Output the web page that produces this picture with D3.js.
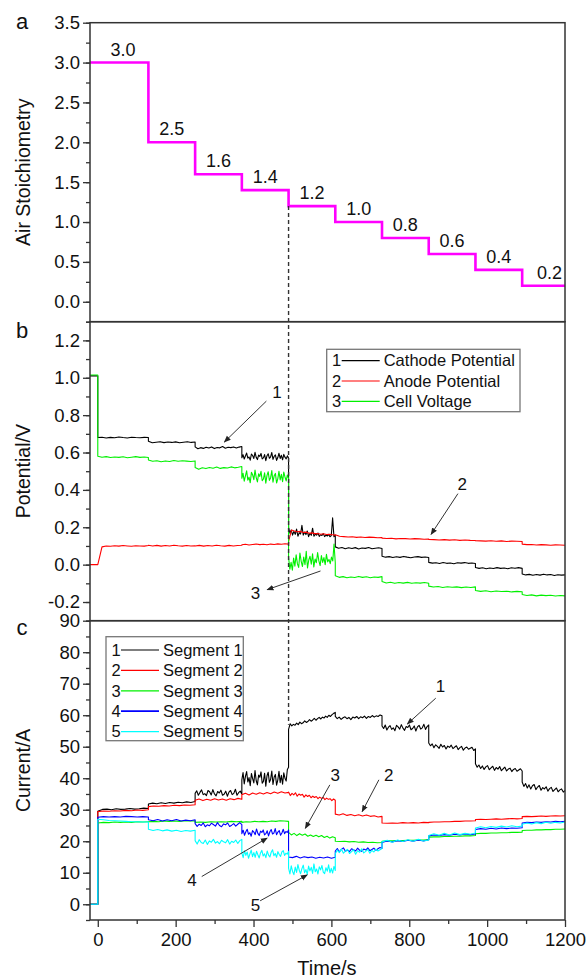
<!DOCTYPE html>
<html>
<head>
<meta charset="utf-8">
<script src="https://cdn.jsdelivr.net/npm/d3@7"></script>
<style>
  body { margin: 0; background: #fff; }
  text { font-family: "Liberation Sans", Arial, sans-serif; fill: #111; }
</style>
</head>
<body>
<svg id="vis" width="587" height="979"></svg>
<script>
// step boundaries of the air stoichiometry program (s)
const stepTimes = [0, 130, 250, 370, 490, 610, 730, 850, 970, 1090, 1200];
const airLevels = [3.0, 2.0, 1.6, 1.4, 1.2, 1.0, 0.8, 0.6, 0.4, 0.2];
const airLabels = ["3.0", "2.5", "1.6", "1.4", "1.2", "1.0", "0.8", "0.6", "0.4", "0.2"];

// panel b: potentials (V), value before t=0 then samples per step
const cathodePre = 1.01;
const cathode = [
  [0.68,0.682,0.678,0.681,0.679,0.683,0.68,0.678,0.682,0.68,0.679,0.681,0.68],
  [0.66,0.652,0.655,0.658,0.653,0.656,0.654,0.657,0.652,0.655,0.658,0.654,0.656],
  [0.63,0.62,0.626,0.622,0.628,0.624,0.63,0.621,0.627,0.625,0.632,0.623,0.628,0.626,0.63,0.624,0.629,0.632],
  [0.572,0.588,0.565,0.581,0.597,0.57,0.576,0.559,0.592,0.584,0.568,0.601,0.574,0.562,0.586,0.579,0.595,0.566,0.571,0.589,0.556,0.583,0.593,0.569,0.577,0.6,0.563,0.58,0.587,0.558,0.573,0.596,0.568,0.585,0.561,0.59,0.575,0.566,0.582,0.57],
  [0.2,0.168,0.185,0.158,0.178,0.162,0.19,0.152,0.171,0.164,0.21,0.158,0.174,0.161,0.18,0.15,0.168,0.157,0.195,0.152,0.163,0.158,0.169,0.151,0.16,0.156,0.166,0.15,0.158,0.153,0.162,0.149,0.156,0.25,0.15,0.158],
  [0.095,0.088,0.092,0.085,0.09,0.086,0.091,0.084,0.089,0.087,0.092,0.085,0.088,0.09,0.086],
  [0.045,0.04,0.043,0.038,0.042,0.039,0.044,0.04,0.037,0.041,0.043,0.039,0.041,0.038],
  [0.012,0.008,0.01,0.006,0.011,0.007,0.009,0.005,0.01,0.008,0.011,0.007,0.009,0.006],
  [-0.015,-0.02,-0.017,-0.022,-0.018,-0.021,-0.016,-0.02,-0.018,-0.022,-0.017,-0.019,-0.016,-0.02],
  [-0.05,-0.055,-0.052,-0.057,-0.053,-0.056,-0.051,-0.055,-0.053,-0.058,-0.054,-0.056,-0.055]
];
const anodePre = 0.0;
const anode = [
  [0.0,0.095,0.1,0.098,0.101,0.099,0.102,0.1,0.098,0.101,0.1,0.099,0.102],
  [0.104,0.1,0.103,0.099,0.102,0.1,0.104,0.101,0.099,0.102,0.1,0.101],
  [0.1,0.103,0.099,0.102,0.1,0.104,0.101,0.099,0.103,0.1,0.102,0.104],
  [0.106,0.109,0.105,0.108,0.11,0.107,0.109,0.106,0.11,0.108,0.111,0.109,0.112,0.11],
  [0.125,0.185,0.18,0.176,0.178,0.172,0.174,0.168,0.17,0.166,0.167,0.163,0.165,0.161,0.162,0.16,0.158],
  [0.16,0.152,0.15,0.148,0.149,0.146,0.148,0.145,0.147,0.146,0.144,0.145],
  [0.142,0.14,0.141,0.138,0.14,0.139,0.137,0.139,0.138,0.136,0.137],
  [0.135,0.134,0.132,0.134,0.131,0.133,0.13,0.132,0.13,0.129],
  [0.128,0.127,0.126,0.128,0.125,0.127,0.124,0.126,0.125,0.124],
  [0.11,0.107,0.108,0.105,0.107,0.106,0.104,0.106,0.105,0.104]
];
const cellPre = 1.015;
const cell = [
  [0.58,0.575,0.578,0.573,0.576,0.574,0.577,0.572,0.575,0.578,0.574,0.576,0.573],
  [0.56,0.553,0.556,0.551,0.555,0.552,0.557,0.553,0.556,0.554,0.552,0.555],
  [0.52,0.51,0.518,0.514,0.52,0.516,0.522,0.515,0.519,0.517,0.523,0.518,0.521,0.525],
  [0.462,0.489,0.447,0.475,0.502,0.452,0.468,0.438,0.494,0.481,0.455,0.506,0.466,0.443,0.486,0.472,0.499,0.449,0.458,0.491,0.436,0.478,0.497,0.451,0.464,0.503,0.441,0.476,0.488,0.437,0.459,0.5,0.453,0.483,0.444,0.495,0.469,0.448,0.48,0.46],
  [0.04,-0.025,0.012,-0.03,0.035,-0.008,0.052,0.005,-0.015,0.062,0.018,-0.01,0.04,0.0,0.071,-0.018,0.025,0.045,0.002,0.058,-0.012,0.03,0.01,0.065,0.02,-0.005,0.048,0.012,0.038,0.0,0.055,0.015,0.028,0.005,0.04,0.02,0.11,0.01],
  [-0.06,-0.068,-0.064,-0.07,-0.066,-0.069,-0.063,-0.068,-0.065,-0.07,-0.066,-0.068,-0.064],
  [-0.09,-0.098,-0.094,-0.1,-0.096,-0.099,-0.095,-0.1,-0.097,-0.099,-0.096,-0.1],
  [-0.115,-0.12,-0.117,-0.122,-0.118,-0.121,-0.119,-0.123,-0.12,-0.122,-0.119],
  [-0.138,-0.143,-0.14,-0.145,-0.141,-0.144,-0.142,-0.146,-0.143,-0.145],
  [-0.16,-0.165,-0.162,-0.167,-0.163,-0.166,-0.164,-0.168,-0.165,-0.167]
];

// panel c: segment currents (A)
const seg1 = [
  [29.5,30.1,30.2,30.0,30.3,30.1,30.2,30.4,30.2,30.3,30.5,30.4],
  [31.8,32.1,31.9,32.2,32.0,32.3,32.1,32.4,32.2,32.5,32.3,32.6],
  [35.2,36.0,34.6,35.5,36.3,34.8,35.1,34.5,36.1,35.7,34.7,36.4,35.0,34.4,35.8,35.3,36.2,34.6,34.9,35.9,34.3,35.6,36.1,34.8,35.2,36.5,34.6,35.4,35.9,35.0],
  [39.5,41.8,38.2,40.6,42.1,38.8,40.2,37.6,41.5,39.9,38.5,42.4,39.2,37.9,41.0,40.3,42.0,38.4,39.0,41.6,37.5,40.8,41.9,38.7,39.6,42.3,38.0,40.4,41.2,37.8,39.4,42.2,38.6,40.9,38.1,41.7,40.0,39.1,42.8,43.5],
  [55.5,57.3,56.6,57.1,56.8,57.5,57.0,57.8,57.3,57.6,58.2,57.7,58.0,58.6,58.1,58.5,59.0,58.4,58.9,59.3,58.8,59.4,59.1,59.7,59.3,60.0,59.6,60.2,60.6,60.9],
  [59.6,58.9,59.4,58.7,59.2,59.5,58.9,59.3,58.6,59.4,59.1,59.6,58.9,59.5,59.2,59.7,59.0,59.6,59.3,59.9,59.4,59.8,59.6,60.1,59.8],
  [56.6,55.8,56.9,55.3,56.2,56.7,55.5,56.0,55.1,56.8,56.3,55.6,57.0,55.9,55.2,56.4,56.1,56.9,55.4,55.8,56.6,55.0,56.3,56.8,55.6,56.0,57.1,55.5,56.4,56.9],
  [51.2,50.3,50.9,49.7,50.6,50.1,49.5,50.8,49.9,50.4,49.3,50.2,49.8,50.5,49.4,49.9,50.3,49.1,49.7,50.1,48.9,49.6,49.9,49.2,49.5,49.8,48.8,49.3],
  [44.6,43.5,44.2,43.1,43.9,42.8,43.6,44.0,42.7,43.3,43.8,42.5,43.4,42.9,43.7,42.4,43.0,43.5,42.3,42.9,43.2,42.1,42.8,43.1,42.2,42.6,43.0,42.3],
  [38.8,37.4,38.3,36.9,37.9,36.6,37.6,38.0,36.4,37.2,37.7,36.2,37.0,36.6,37.3,35.9,36.7,37.1,35.8,36.4,36.9,35.7,36.3,36.6,35.6,36.1]
];
const seg2 = [
  [29.4,29.6,29.5,29.7,29.6,29.8,29.7,29.9,29.8,30.0],
  [31.0,31.2,31.1,31.3,31.2,31.4,31.3,31.5,31.4,31.6],
  [33.0,33.4,32.9,33.3,33.0,33.5,33.1,33.4,33.0,33.5,33.2,33.6,33.3],
  [34.8,35.2,34.7,35.3,34.9,35.4,35.0,35.5,35.1,35.6,35.2,35.7,35.3,35.5],
  [35.6,34.5,35.2,34.7,35.4,34.3,35.0,34.6,34.9,34.0,34.7,34.2,34.6,33.8,34.3,33.9,34.2,33.5,34.0,33.6,33.9,33.2,33.7,33.3,33.5,32.9,33.4,33.0],
  [28.6,28.3,28.7,28.2,28.5,28.1,28.4,28.0,28.3,27.9,28.1,27.7,27.9],
  [25.8,25.7,25.8,25.7,25.9,25.8,25.9,25.8,26.0,25.9],
  [26.0,26.1,26.1,26.2,26.2,26.3,26.3,26.4,26.4,26.5],
  [26.9,27.0,26.9,27.0,27.1,27.0,27.1,27.2,27.1,27.2],
  [27.8,27.9,27.8,27.9,28.0,27.9,28.0,28.1,28.0,28.1]
];
const seg3 = [
  [25.8,26.0,25.9,26.1,26.0,26.1,26.0,26.2,26.1,26.2],
  [26.2,26.3,26.2,26.4,26.3,26.4,26.3,26.5,26.4,26.5],
  [26.0,26.1,26.0,26.2,26.1,26.2,26.1,26.3,26.2,26.3],
  [26.0,26.2,26.1,26.3,26.2,26.3,26.2,26.4,26.3,26.5,26.4,26.3],
  [22.8,22.0,22.5,21.8,22.4,21.9,22.3,21.6,22.0,21.5,21.9,21.4,21.8,21.2,21.6,21.0,21.4,21.1],
  [20.0,19.9,20.0,19.8,19.9,19.7,19.8,19.6,19.7,19.5,19.6],
  [20.0,20.1,20.1,20.2,20.2,20.3,20.3,20.4,20.4,20.5],
  [21.3,21.4,21.4,21.5,21.5,21.6,21.6,21.7,21.7,21.8],
  [22.4,22.5,22.5,22.6,22.6,22.7,22.7,22.8,22.8,22.9],
  [23.4,23.5,23.5,23.6,23.6,23.7,23.7,23.8,23.8,23.9]
];
const seg4 = [
  [27.6,27.8,27.7,27.8,27.7,27.9,27.8,27.7,27.8,27.7],
  [26.8,26.5,26.9,26.4,26.8,26.5,26.9,26.4,26.7,26.5,26.8],
  [25.6,24.7,25.4,25.0,25.8,24.6,25.2,24.9,25.7,25.3,24.8,25.9,25.0,24.6,25.5,25.2,25.8,24.7,25.1,25.6,24.8,25.4,25.9,25.3],
  [22.4,23.5,21.9,23.0,23.8,22.2,22.7,21.6,23.4,22.9,22.1,23.9,22.5,21.8,23.2,22.8,23.6,22.0,22.4,23.3,21.7,23.0,23.7,22.3,22.6,24.0,22.1,22.9,23.4,21.9,22.6,23.8,22.4,23.1,22.8,23.6],
  [15.0,14.8,15.2,14.7,15.1,14.8,15.0,14.6,14.9,14.7,15.0,14.6,14.9],
  [16.9,17.7,16.6,17.4,17.9,16.8,17.2,16.7,17.6,17.3,16.9,17.8,17.1,16.8,17.5,17.2,17.9,17.0,17.4,17.8,17.1,17.6,18.0,17.7],
  [19.6,20.1,19.8,20.2,19.9,20.3,20.0,20.4,20.1,20.5],
  [21.7,22.0,21.8,22.1,21.9,22.2,22.0,22.3,22.1,22.3],
  [23.7,24.0,23.8,24.1,23.9,24.2,24.0,24.2,24.1,24.3],
  [25.8,26.0,25.9,26.1,26.0,26.2,26.1,26.3,26.2,26.3]
];
const seg5 = [
  [27.0,26.8,26.6,26.5,26.4,26.3,26.2,26.2,26.1,26.1],
  [23.8,23.4,23.7,23.3,23.6,23.2,23.5,23.1,23.4,23.2,23.5],
  [20.2,19.1,20.5,19.6,19.3,20.4,19.0,20.1,19.7,20.6,19.4,19.9,19.2,20.3,19.8,19.5,20.5,19.1,20.0,19.6,20.4,19.3,20.2,20.6],
  [16.2,14.8,17.0,15.5,16.6,14.6,15.9,17.2,15.1,16.4,14.9,16.8,15.7,14.7,16.3,17.1,15.3,16.0,14.8,16.9,15.6,15.0,16.5,17.3,15.4,16.1,14.9,16.7,15.8,15.2,16.6,17.0,15.5,16.2,15.9,16.8],
  [11.5,9.6,12.2,10.4,9.4,11.8,10.1,12.6,10.8,9.7,11.3,12.4,10.0,11.0,9.5,12.1,10.6,11.7,9.8,12.8,10.3,11.2,9.6,11.9,10.9,12.3,10.2,9.7,11.6,10.5,12.5,10.0,11.4,9.9,12.0,10.7],
  [16.0,17.2,16.4,17.5,16.2,16.9,17.4,16.1,16.7,17.3,15.9,17.0,16.5,17.6,16.3,16.8,17.4,16.2,17.1,16.6,17.5,16.9,17.3,17.7],
  [19.8,20.3,19.7,20.4,19.9,20.5,20.0,20.6,20.1,20.4],
  [21.8,22.4,21.9,22.5,22.0,22.6,22.1,22.5,22.2,22.6],
  [24.2,24.6,24.3,24.7,24.4,24.8,24.5,24.9,24.6,24.8],
  [25.4,25.8,25.5,25.9,25.6,26.0,25.7,26.0,25.8,26.1]
];

// legends
const potNames = ["Cathode Potential", "Anode Potential", "Cell Voltage"];
const segNames = ["Segment 1", "Segment 2", "Segment 3", "Segment 4", "Segment 5"];

// annotation arrows, in data units: label point, tail, head
const potArrows = [
  { label: "1", lt: 460, lv: 0.923, t0: 433, v0: 0.875, t1: 325, v1: 0.656 },
  { label: "2", lt: 936, lv: 0.43, t0: 925, v0: 0.38, t1: 856, v1: 0.162 },
  { label: "3", lt: 405, lv: -0.152, t0: 572, v0: -0.034, t1: 435, v1: -0.134 }
];
const segArrows = [
  { label: "1", lt: 880, lv: 69.1, t0: 868, v0: 65.4, t1: 795, v1: 57.2 },
  { label: "2", lt: 747, lv: 41.0, t0: 722, v0: 39.5, t1: 679, v1: 29.4 },
  { label: "3", lt: 610, lv: 41.0, t0: 596, v0: 37.9, t1: 533, v1: 24.1 },
  { label: "4", lt: 242, lv: 7.7, t0: 267, v0: 8.8, t1: 435, v1: 21.0 },
  { label: "5", lt: 405, lv: -0.2, t0: 417, v0: 1.1, t1: 538, v1: 9.3 }
];

const svg = d3.select("#vis");
const frameColor = "#333";

const x = d3.scaleLinear().domain([-20, 1200]).range([90, 565]);
const ya = d3.scaleLinear().domain([-0.25, 3.5]).range([321.7, 22.7]);
const yb = d3.scaleLinear().domain([-0.3, 1.3]).range([620.7, 321.7]);
const yc = d3.scaleLinear().domain([-5, 90]).range([920, 620.7]);

svg.append("defs").append("marker")
  .attr("id", "arrow")
  .attr("viewBox", "0 0 10 10")
  .attr("refX", 9).attr("refY", 5)
  .attr("markerWidth", 7).attr("markerHeight", 7)
  .attr("markerUnits", "userSpaceOnUse")
  .attr("orient", "auto")
  .append("path")
  .attr("d", "M0,1 L10,5 L0,9 Z")
  .attr("fill", "#222");

function buildTrace(pre, segs) {
  const pts = [[-20, pre], [0, pre]];
  segs.forEach((vals, i) => {
    const t0 = stepTimes[i], t1 = stepTimes[i + 1];
    vals.forEach((v, k) => pts.push([t0 + k * (t1 - t0) / (vals.length - 1), v]));
  });
  return pts;
}

function yAxis(scale, majors, minors, fmt) {
  svg.append("g")
    .attr("transform", "translate(90,0)")
    .call(d3.axisLeft(scale).tickValues(minors).tickSize(4).tickFormat(""))
    .call(g => g.select(".domain").remove())
    .call(g => g.selectAll("line").attr("stroke", frameColor).attr("stroke-width", 1.3));
  svg.append("g")
    .attr("transform", "translate(90,0)")
    .call(d3.axisLeft(scale).tickValues(majors).tickSize(7).tickPadding(3).tickFormat(fmt))
    .call(g => g.select(".domain").remove())
    .call(g => g.selectAll("line").attr("stroke", frameColor).attr("stroke-width", 1.3))
    .call(g => g.selectAll("text").attr("font-size", "18.5px").attr("fill", "#111")
      .attr("font-family", "Liberation Sans, Arial, sans-serif"));
}

function frame(scale) {
  const [y0, y1] = scale.range();
  svg.append("rect")
    .attr("x", 90).attr("y", y1)
    .attr("width", 475).attr("height", y0 - y1)
    .attr("fill", "none")
    .attr("stroke", frameColor)
    .attr("stroke-width", 1.5);
}

const drawLine = d3.line()
  .x(d => x(d[0]));

function drawArrows(list, scale) {
  list.forEach(a => {
    svg.append("line")
      .attr("x1", x(a.t0)).attr("y1", scale(a.v0))
      .attr("x2", x(a.t1)).attr("y2", scale(a.v1))
      .attr("stroke", "#333").attr("stroke-width", 1)
      .attr("marker-end", "url(#arrow)");
    svg.append("text")
      .attr("x", x(a.lt)).attr("y", scale(a.lv))
      .attr("dy", "0.35em")
      .attr("text-anchor", "middle")
      .attr("font-size", "17px")
      .text(a.label);
  });
}

function legend(names, colors, box, rowH) {
  const g = svg.append("g").attr("transform", `translate(${box.x},${box.y})`);
  g.append("rect")
    .attr("width", box.w).attr("height", box.h)
    .attr("fill", "#fff").attr("stroke", "#777").attr("stroke-width", 1.3);
  names.forEach((n, i) => {
    const cy = box.first + i * rowH;
    g.append("text").attr("x", 10).attr("y", cy).attr("dy", "0.35em")
      .attr("text-anchor", "middle").attr("font-size", "16.5px").text(i + 1);
    g.append("line").attr("x1", 15).attr("x2", 53).attr("y1", cy).attr("y2", cy)
      .attr("stroke", colors[i]).attr("stroke-width", i === 3 ? 1.8 : 1.2);
    g.append("text").attr("x", 57).attr("y", cy).attr("dy", "0.35em")
      .attr("font-size", "16.5px").text(n);
  });
}

// ---- panel a ----
const airPts = airLevels.map((v, i) => [i === 0 ? -20 : stepTimes[i], v]);
airPts.push([1200, airLevels[airLevels.length - 1]]);
svg.append("path")
  .attr("d", d3.line().x(d => x(d[0])).y(d => ya(d[1])).curve(d3.curveStepAfter)(airPts))
  .attr("fill", "none")
  .attr("stroke", "#ff00ff")
  .attr("stroke-width", 2.6);

svg.selectAll("text.airLabel")
  .data(airLabels)
  .join("text")
  .attr("class", "airLabel")
  .attr("x", (d, i) => x((stepTimes[i] + stepTimes[i + 1]) / 2) + (i === 9 ? 6 : 0))
  .attr("y", (d, i) => ya(airLevels[i]) - 7)
  .attr("text-anchor", "middle")
  .attr("font-size", "18px")
  .text(d => d);

frame(ya);
yAxis(ya, d3.range(0, 8).map(i => i * 0.5), d3.range(0, 16).map(i => -0.25 + i * 0.25), d => d.toFixed(1));

// ---- panel b ----
const potColors = ["#000000", "#ff0000", "#00f000"];
[buildTrace(cathodePre, cathode), buildTrace(anodePre, anode), buildTrace(cellPre, cell)]
  .forEach((pts, i) => {
    svg.append("path")
      .attr("d", drawLine.y(d => yb(d[1]))(pts))
      .attr("fill", "none")
      .attr("stroke", potColors[i])
      .attr("stroke-width", 1.1)
      .attr("stroke-linejoin", "round");
  });

frame(yb);
yAxis(yb, d3.range(0, 8).map(i => -0.2 + i * 0.2), d3.range(0, 17).map(i => -0.3 + i * 0.1), d => d.toFixed(1));
legend(potNames, potColors, { x: 326.7, y: 349.3, w: 193.3, h: 62.4, first: 11.4 }, 20.3);
drawArrows(potArrows, yb);

// ---- panel c ----
const segColors = ["#000000", "#ff0000", "#00f000", "#0000ff", "#00ffff"];
[seg1, seg2, seg3, seg4, seg5].forEach((s, i) => {
  svg.append("path")
    .attr("d", drawLine.y(d => yc(d[1]))(buildTrace(0, s)))
    .attr("fill", "none")
    .attr("stroke", segColors[i])
    .attr("stroke-width", 1.1)
    .attr("stroke-linejoin", "round");
});

frame(yc);
yAxis(yc, d3.range(0, 10).map(i => i * 10), d3.range(0, 20).map(i => -5 + i * 5), d => d.toFixed(0));
legend(segNames, segColors, { x: 106, y: 636.7, w: 137.3, h: 104, first: 13.3 }, 20.4);
drawArrows(segArrows, yc);

// x axis
svg.append("g")
  .attr("transform", "translate(0,920)")
  .call(d3.axisBottom(x).tickValues(d3.range(0, 12).map(i => 100 + i * 200).filter(t => t < 1200)).tickSize(4).tickFormat(""))
  .call(g => g.select(".domain").remove())
  .call(g => g.selectAll("line").attr("stroke", frameColor).attr("stroke-width", 1.3));
svg.append("g")
  .attr("transform", "translate(0,920)")
  .call(d3.axisBottom(x).tickValues(d3.range(0, 7).map(i => i * 200)).tickSize(7).tickPadding(6).tickFormat(d => d))
  .call(g => g.select(".domain").remove())
  .call(g => g.selectAll("line").attr("stroke", frameColor).attr("stroke-width", 1.3))
  .call(g => g.selectAll("text").attr("font-size", "18.5px").attr("fill", "#111")
    .attr("font-family", "Liberation Sans, Arial, sans-serif"));

// dashed guide at t = 490 s
svg.append("line")
  .attr("x1", x(stepTimes[4])).attr("x2", x(stepTimes[4]))
  .attr("y1", ya(airLevels[4])).attr("y2", yc(57))
  .attr("stroke", "#333").attr("stroke-width", 1.4)
  .attr("stroke-dasharray", "4,3");

// axis titles and panel letters
const titles = [
  { text: "Air Stoichiometry", y: (ya.range()[0] + ya.range()[1]) / 2 },
  { text: "Potential/V", y: (yb.range()[0] + yb.range()[1]) / 2 },
  { text: "Current/A", y: (yc.range()[0] + yc.range()[1]) / 2 }
];
titles.forEach(t => {
  svg.append("text")
    .attr("transform", `translate(30,${t.y}) rotate(-90)`)
    .attr("text-anchor", "middle")
    .attr("font-size", "19.5px")
    .text(t.text);
});
svg.append("text").attr("x", 327).attr("y", 975).attr("text-anchor", "middle")
  .attr("font-size", "20px").text("Time/s");

[["a", 29], ["b", 338], ["c", 635]].forEach(([l, yy]) => {
  svg.append("text").attr("x", 22).attr("y", yy).attr("text-anchor", "middle")
    .attr("font-size", "22px").text(l);
});
</script>
</body>
</html>
